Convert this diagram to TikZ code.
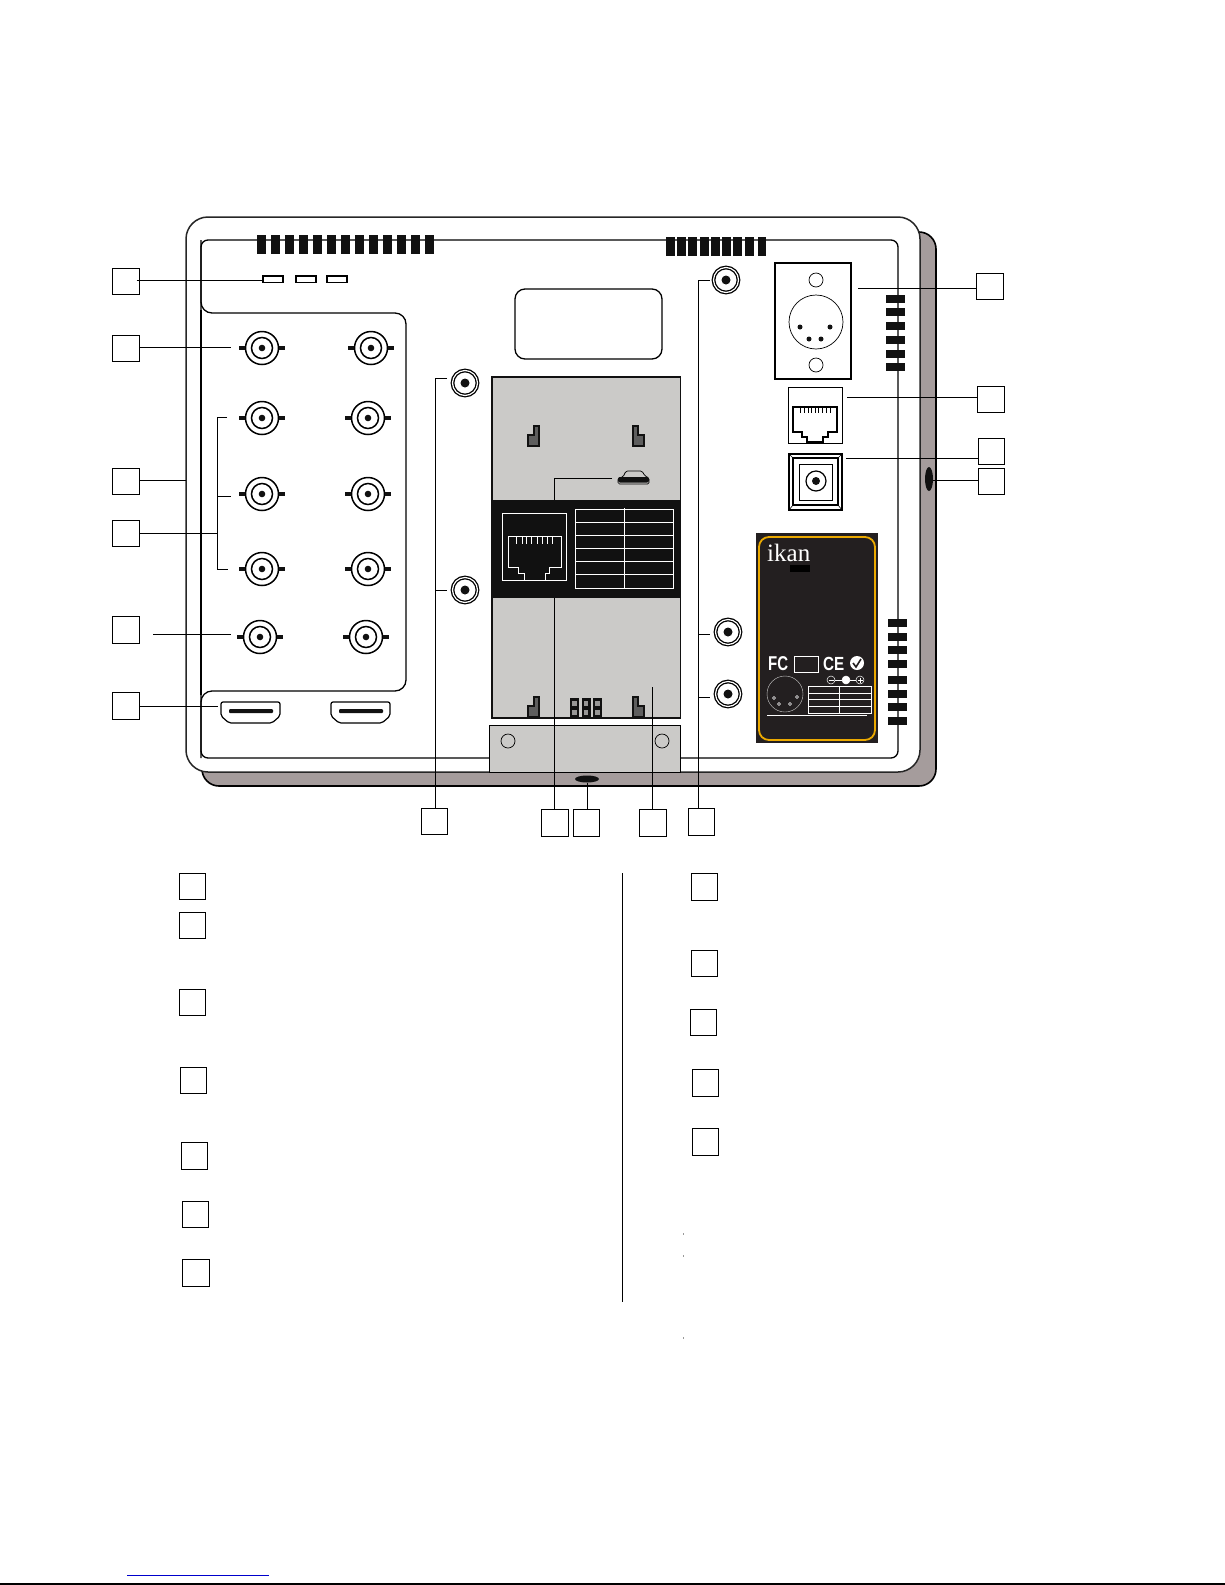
\documentclass[tikz,border=0pt]{standalone}
\usepackage{fontspec}
\setmainfont{Liberation Sans}
\newfontfamily\ikanfont{Liberation Serif}
\usetikzlibrary{calc, shapes.geometric}

\definecolor{shadowgray}{HTML}{A59C9C}
\definecolor{plategray}{HTML}{CBCAC8}
\definecolor{labelblack}{HTML}{231F20}
\definecolor{labelgold}{HTML}{EBA900}
\definecolor{notchgray}{HTML}{5E5E5E}
\definecolor{inkblack}{HTML}{111111}

\tikzset{
    callbox/.style={draw, minimum width=26.5pt, minimum height=26.5pt, inner sep=0pt, line width=0.8pt},
    leader/.style={line width=0.8pt},
    bncjack/.style={circle, draw, line width=1.5pt, minimum size=33pt, inner sep=0pt,
        path picture={\draw[line width=1.5pt] (path picture bounding box.center) circle (10.5pt);
            \fill[inkblack] (path picture bounding box.center) circle (3.3pt);}},
    bnctab/.style={line width=3.5pt, inkblack},
    rcajack/.style={circle, draw, line width=1.3pt, double, double distance=1.2pt, minimum size=25pt, inner sep=0pt,
        path picture={\fill[inkblack] (path picture bounding box.center) circle (4.5pt);}},
    vent/.style={inkblack},
    ledslot/.style={draw, line width=1.5pt, minimum width=20pt, minimum height=6.5pt, inner sep=0pt},
    hole/.style={circle, draw, line width=0.7pt, minimum size=14pt, inner sep=0pt},
    pin/.style={circle, fill=inkblack, minimum size=5pt, inner sep=0pt},
    labelpin/.style={circle, draw=white, line width=0.4pt, minimum size=3pt, inner sep=0pt},
    polmark/.style={circle, draw=white, fill=labelblack, line width=0.5pt, minimum size=8pt, inner sep=0pt},
    notch/.style={draw=inkblack, fill=notchgray, line width=1.6pt},
}

\begin{document}
\begin{tikzpicture}[x=1pt, y=-1pt]
    \useasboundingbox (0,0) rectangle (1225,1585);

    % housing
    \draw[fill=shadowgray, line width=1.6pt, rounded corners=17pt] (202,232) rectangle (936,786);
    \draw[fill=white, line width=1.5pt, draw=black!85, rounded corners=22pt] (186,217) rectangle (920,772);
    \draw[line width=1.3pt, rounded corners=7pt] (201,240) rectangle (898,758);
    \draw[line width=1.3pt, rounded corners=11pt] (201,240) -- (201,313) -- (406,313) -- (406,691) -- (201,691) -- (201,758);
    \draw[line width=1.7pt] (201,310) -- (201,695);

    % vents
    \foreach \i in {0,...,12}
        \fill[vent] ({257+14*\i},235) rectangle +(9,19);
    \foreach \x in {666,677,688,700,711,722,733,745,757.5}
        \fill[vent] (\x,237) rectangle +(8.5,19);
    \foreach \y in {295,308,322,336,350,363}
        \fill[vent] (886,\y) rectangle +(19,8);
    \foreach \y in {619,633,646,660,676,690,703,717}
        \fill[vent] (888,\y) rectangle +(19,8);

    % led slots
    \node[ledslot] (ledA) at (273,279) {};
    \node[ledslot] (ledB) at (306,279) {};
    \node[ledslot] (ledC) at (337,279) {};

    % bnc jacks
    \foreach \name/\x/\y in {aA/262/348, aB/371/348, bA/262/418, bB/368/418, cA/262/494, cB/368/494,
                             dA/262/569, dB/368/569, eA/260/637, eB/366/637} {
        \node[bncjack] (bnc\name) at (\x,\y) {};
        \draw[bnctab] (bnc\name.west) -- ++(-5.5,0);
        \draw[bnctab] (bnc\name.east) -- ++(5.5,0);
    }

    % hdmi
    \foreach \name/\x in {hdmiA/221, hdmiB/331} {
        \draw[line width=1.2pt, rounded corners=2pt] (\x,702) -- ($(\x,702)+(59,0)$) -- ($(\x,702)+(59,14)$)
            -- ($(\x,702)+(51,21)$) -- ($(\x,702)+(8,21)$) -- ($(\x,702)+(0,14)$) -- cycle;
        \fill[inkblack, rounded corners=1pt] ($(\x,702)+(8,7)$) rectangle ($(\x,702)+(52,11)$);
        \coordinate (\name) at (\x,706);
    }

    % display window
    \draw[line width=1.3pt, rounded corners=10pt] (515,289) rectangle (662,359);

    % battery plate
    \draw[fill=plategray, line width=1.5pt, draw=inkblack] (492,377) rectangle (680.5,718);
    \fill[inkblack] (492,500) rectangle (680.5,598);
    \draw[fill=plategray, line width=1pt] (489,725) rectangle (680.5,772);
    \node[hole] (holeA) at (508,741) {};
    \node[hole] (holeB) at (662,741) {};

    % notches
    \foreach \ytop/\ybot in {426/446, 697/717} {
        \draw[notch] (539,\ytop) -- (539,\ybot) -- (528,\ybot) -- ($(528,\ybot)+(0,-11)$) -- ($(534,\ybot)+(0,-11)$) -- (534,\ytop) -- cycle;
        \draw[notch] (633,\ytop) -- (633,\ybot) -- (644,\ybot) -- ($(644,\ybot)+(0,-11)$) -- ($(638,\ybot)+(0,-11)$) -- (638,\ytop) -- cycle;
    }
    \foreach \x in {570,581.5,593} {
        \fill[inkblack] (\x,698) rectangle +(9,19);
        \fill[plategray!75!black] ($(\x,698)+(2.2,2.5)$) rectangle +(4.6,5);
        \fill[plategray!75!black] ($(\x,698)+(2.2,11.5)$) rectangle +(4.6,5);
    }

    % micro slot
    \draw[fill=plategray, line width=0.7pt, rounded corners=1.5pt] (623,477) -- (626,471) -- (642,471) -- (645,476) -- (649,478) -- (649,484) -- (618,484) -- (618,478) -- cycle;
    \fill[inkblack, rounded corners=2pt] (618,477) rectangle (649,482.5);

    % network port on the band
    \draw[white, line width=0.8pt] (502,513) rectangle (566.5,580);
    \draw[white, line width=0.8pt] (508,536) -- (561,536) -- (561,567) -- (549,567) -- (549,573) -- (545,573) -- (545,580)
        -- (524,580) -- (524,573) -- (518,573) -- (518,567) -- (508,567) -- cycle;
    \foreach \x in {516,522,526,531,537,542,547,552}
        \draw[white, line width=0.6pt] (\x,536) -- (\x,544);

    % table on the band
    \draw[white, line width=0.8pt] (575,509) rectangle (673.5,588);
    \foreach \y in {522,535,548,561,574}
        \draw[white, line width=0.8pt] (575,\y) -- (673.5,\y);
    \draw[white, line width=0.8pt] (624,508) -- (624,588);

    % rca jacks
    \node[rcajack] (rcaA) at (465,383) {};
    \node[rcajack] (rcaB) at (465,590) {};
    \node[rcajack] (rcaC) at (726,280) {};
    \node[rcajack] (rcaD) at (728,632) {};
    \node[rcajack] (rcaE) at (728,694) {};

    % din plate
    \draw[line width=1.5pt] (775,263) rectangle (851,379);
    \node[hole] (dinholeA) at (816,280) {};
    \node[hole] (dinholeB) at (816,365) {};
    \node[circle, draw, line width=0.7pt, minimum size=54pt, inner sep=0pt] (din) at (816,322) {};
    \node[pin] (dinpinA) at (800,327) {};
    \node[pin] (dinpinB) at (830,327) {};
    \node[pin] (dinpinC) at (809,339) {};
    \node[pin] (dinpinD) at (821,339) {};

    % rj45
    \draw[line width=1pt] (788,387) rectangle (842,443);
    \draw[line width=1.1pt] (793,407) -- (837,407) -- (837,432) -- (828,432) -- (828,437) -- (823,437) -- (823,442)
        -- (807,442) -- (807,437) -- (802,437) -- (802,432) -- (793,432) -- cycle;
    \foreach \x in {800,804,808,811,815,818,822,826,830}
        \draw[line width=0.7pt] (\x,407) -- (\x,413);

    % power jack
    \draw[line width=1.4pt] (789,454) rectangle (842,510);
    \draw[line width=1.8pt] (793,458) rectangle (838,505);
    \draw[line width=1pt] (799,464) rectangle (832,500);
    \foreach \a/\b in {789/793, 842/838} {
        \draw[line width=0.6pt] (\a,454) -- (\b,458);
        \draw[line width=0.6pt] (\a,510) -- (\b,505);
    }
    \node[circle, draw, line width=1.2pt, minimum size=20pt, inner sep=0pt,
          path picture={\fill[inkblack] (path picture bounding box.center) circle (4pt);}] (dcjack) at (816,481) {};
    \node[ellipse, fill=inkblack, minimum width=8pt, minimum height=24pt, inner sep=0pt] (sidehole) at (929,479) {};
    \node[ellipse, fill=inkblack, minimum width=24pt, minimum height=7pt, inner sep=0pt] (botslot) at (587,779) {};

    % rating label
    \fill[labelblack] (756,533) rectangle (878,743);
    \draw[labelgold, line width=1.8pt, rounded corners=10pt] (759,537) rectangle (875,740);
    \node[white, font=\ikanfont\fontsize{25}{25}\selectfont, inner sep=0pt, anchor=base west] (ikan) at (767,561) {ikan};
    \fill[black] (790,565) rectangle (810,572);
    \node[white, font=\bfseries\fontsize{20}{20}\selectfont, inner sep=0pt, anchor=west, xscale=0.75] (fcmark) at (768,663.5) {FC};
    \draw[white, line width=0.8pt] (794,656) rectangle (818,672);
    \node[white, font=\bfseries\fontsize{19}{19}\selectfont, inner sep=0pt, anchor=west, xscale=0.8] (cemark) at (823,663.5) {CE};
    \node[circle, fill=white, minimum size=14pt, inner sep=0pt] (okmark) at (857,663) {};
    \draw[labelblack, line width=1.6pt] (853,663) -- (856,667) -- (861,659);
    \node[polmark] (polA) at (831,680) {};
    \node[polmark, fill=white] (polB) at (846,680) {};
    \node[polmark] (polC) at (860,680) {};
    \draw[white, line width=0.6pt] (polA.east) -- (polB.west);
    \draw[white, line width=0.6pt] (polB.east) -- (polC.west);
    \draw[white, line width=0.6pt] (828.5,680) -- (833.5,680);
    \draw[white, line width=0.6pt] (857.5,680) -- (862.5,680);
    \draw[white, line width=0.6pt] (860,677.5) -- (860,682.5);
    \node[circle, draw=white!80!black, line width=0.4pt, minimum size=36pt, inner sep=0pt] (labeldin) at (785,694) {};
    \node[labelpin] (lpinA) at (774,698) {};
    \node[labelpin] (lpinB) at (779,704) {};
    \node[labelpin] (lpinC) at (790,704) {};
    \node[labelpin] (lpinD) at (797,697) {};
    \draw[white, line width=0.7pt] (808,686) rectangle (871,713);
    \foreach \y in {693,699,706}
        \draw[white, line width=0.7pt] (808,\y) -- (871,\y);
    \draw[white, line width=0.7pt] (839,686) -- (839,713);
    \draw[white, line width=0.5pt] (767,715) -- (867,715);

    % callout boxes round the picture
    \node[callbox] (boxA) at (126,281.5) {};
    \node[callbox] (boxB) at (126,348.5) {};
    \node[callbox] (boxC) at (126,481.5) {};
    \node[callbox] (boxD) at (126,533.5) {};
    \node[callbox] (boxE) at (126,630) {};
    \node[callbox] (boxF) at (126,706) {};
    \node[callbox] (boxG) at (434.5,821.5) {};
    \node[callbox] (boxH) at (555,823) {};
    \node[callbox] (boxI) at (586.5,823) {};
    \node[callbox] (boxJ) at (653,823) {};
    \node[callbox] (boxK) at (701.5,822) {};
    \node[callbox] (boxL) at (990,286.5) {};
    \node[callbox] (boxM) at (991,399.5) {};
    \node[callbox] (boxN) at (991.5,451.5) {};
    \node[callbox] (boxO) at (991.5,481.5) {};

    % leaders
    \draw[leader] (boxA.east) ++(-3,-1.5) -- (ledA.west |- 0,280);
    \coordinate (endB) at (231,347);
    \draw[leader] (boxB.east |- endB) -- (endB);
    \draw[leader] (boxC.east |- 0,480) -- (186,480);
    \coordinate (braceTop) at (227,417);
    \coordinate (braceMid) at (231,496);
    \coordinate (braceBot) at (228,569);
    \draw[leader] (braceTop) -| (217,569) -- (braceBot);
    \draw[leader] (217,496) -- (braceMid);
    \draw[leader] (boxD.east) -- (boxD.east -| 217,0);
    \coordinate (endE) at (231,634);
    \draw[leader] (153,634) -- (endE);
    \draw[leader] (boxF.east) -- (218,706);

    \draw[leader] (447,378) -| (boxG.north -| 435,0);
    \draw[leader] (435,590) -- (447,590);
    \draw[leader] (612,478) -| (554,500);
    \draw[leader] (554,598) -- (boxH.north -| 554,0);
    \draw[leader] (botslot.south) -- (botslot.south |- boxI.north);
    \draw[leader] (652,687) -- (652,809.5);
    \draw[leader] (710,280) -| (698,808.5);
    \draw[leader] (698,634) -- (710,634);
    \draw[leader] (698,697) -- (710,697);

    \coordinate (endL) at (858,288);
    \draw[leader] (endL) -- (boxL.west |- endL);
    \coordinate (endM) at (847,397);
    \draw[leader] (endM) -- (boxM.west |- endM);
    \coordinate (endN) at (846,458);
    \draw[leader] (endN) -- (boxN.west |- endN);
    \draw[leader] (sidehole.east |- 0,480) -- (boxO.west |- 0,480);

    % legend boxes
    \node[callbox] (keyA) at (192.5,886.5) {};
    \node[callbox] (keyB) at (192.5,925.5) {};
    \node[callbox] (keyC) at (192.5,1002.5) {};
    \node[callbox] (keyD) at (193.5,1080.5) {};
    \node[callbox] (keyE) at (194.5,1156) {};
    \node[callbox] (keyF) at (195.5,1214.5) {};
    \node[callbox] (keyG) at (196,1273) {};
    \node[callbox] (keyH) at (704.5,887) {};
    \node[callbox] (keyI) at (704.5,963.5) {};
    \node[callbox] (keyJ) at (703.5,1022.5) {};
    \node[callbox] (keyK) at (705.5,1083) {};
    \node[callbox] (keyL) at (705.5,1142) {};
    \draw[line width=1pt] (622.5,873) -- (622.5,1302);

    % specks and foot rules
    \foreach \y in {1233,1255,1337}
        \fill[black!40] (683,\y) rectangle +(1,2);
    \draw[blue!80!black, line width=1pt] (127,1575) -- (269,1575);
    \draw[line width=1.6pt] (0,1584) -- (1225,1584);
\end{tikzpicture}
\end{document}
